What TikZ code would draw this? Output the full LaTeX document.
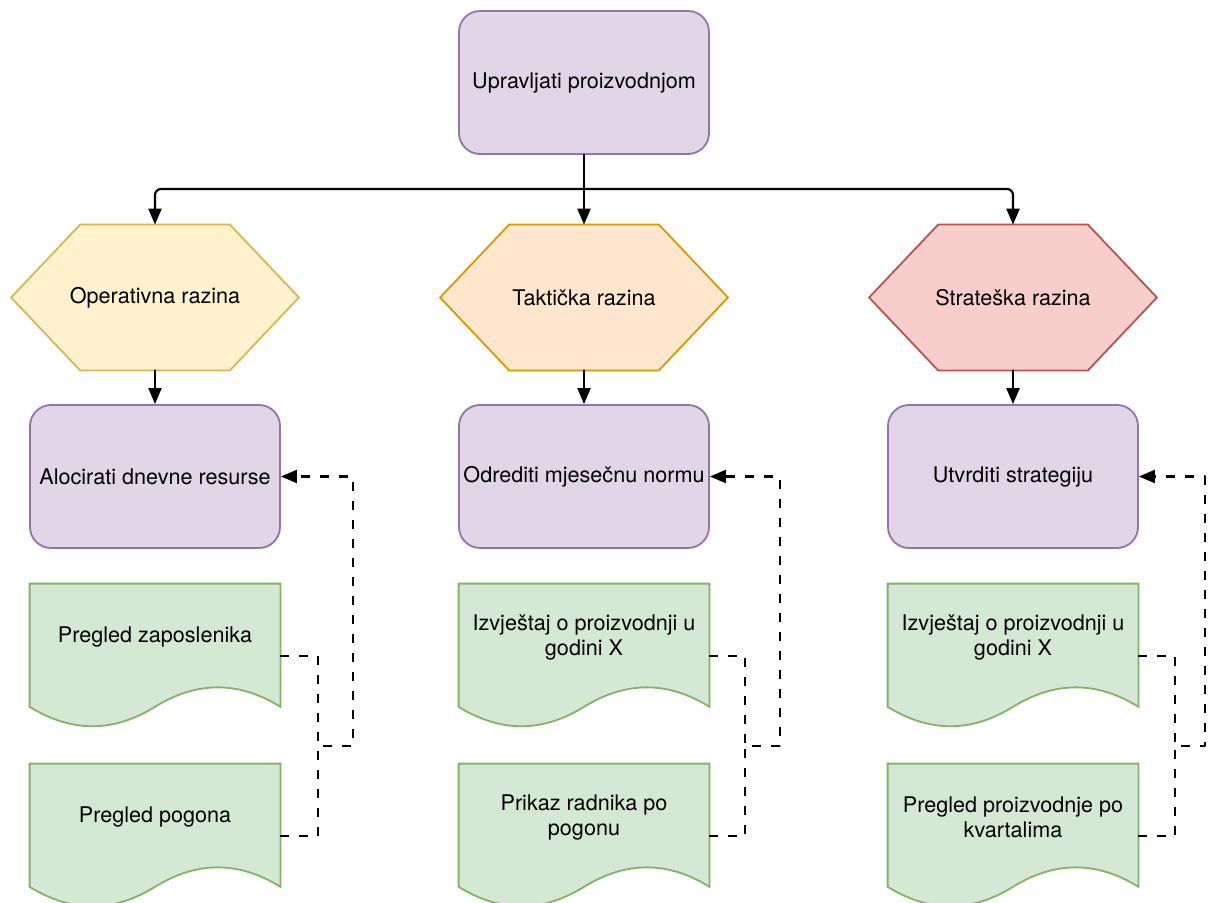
\documentclass[tikz,border=0pt]{standalone}
\usepackage{pgf,tikz}
\usepackage{fontspec}
\setmainfont{TeX Gyre Heros}
\usetikzlibrary{arrows.meta}
\usetikzlibrary{backgrounds}
\usepackage{color}
\definecolor{procfill}{HTML}{E1D5E7}
\definecolor{procline}{HTML}{9673A6}
\definecolor{opfill}{HTML}{FFF2CC}
\definecolor{opline}{HTML}{D6B656}
\definecolor{takfill}{HTML}{FFE6CC}
\definecolor{takline}{HTML}{D79B00}
\definecolor{strfill}{HTML}{F8CECC}
\definecolor{strline}{HTML}{B85450}
\definecolor{docfill}{HTML}{D5E8D4}
\definecolor{docline}{HTML}{82B366}

\begin{document}
\begin{tikzpicture}[line cap=round,line join=round,>={Triangle[length=8pt,width=6.5pt]},x=0.5pt,y=-0.5pt,
  font=\fontsize{10.8pt}{12.5pt}\selectfont,
  procbox/.style={draw=procline,fill=procfill,line width=0.9pt,rounded corners=10.5pt,minimum width=125pt,minimum height=71.5pt,inner sep=0pt,align=center},
  levelhex/.style={minimum width=143.5pt,minimum height=72.5pt,inner sep=0pt},
  docbox/.style={minimum width=125pt,minimum height=72pt,inner sep=0pt,label={[yshift=9.5pt,align=center]center:#1}},
  docshape/.style={draw=docline,fill=docfill,line width=0.9pt},
  link/.style={->,line width=1.1pt,rounded corners=3pt},
  fbline/.style={line width=1.1pt,dash pattern=on 4.5pt off 5pt,line cap=butt},
  fback/.style={fbline,->}]
\useasboundingbox (0,0) rectangle (1208,903);
\node [procbox] (top) at (584,82.5) {Upravljati proizvodnjom};
\node [levelhex] (op) at (155,297.5) {Operativna razina};
\node [levelhex] (tak) at (584,297.5) {Taktička razina};
\node [levelhex] (str) at (1013,297.5) {Strateška razina};
\node [procbox] (aloc) at (155,476.5) {Alocirati dnevne resurse};
\node [procbox] (odr) at (584,476.5) {Odrediti mjesečnu normu};
\node [procbox] (utv) at (1013,476.5) {Utvrditi strategiju};
\node [docbox={Pregled zaposlenika}] (zap) at (155,656) {};
\node [docbox={Pregled pogona}] (pog) at (155,836) {};
\node [docbox={Izvještaj o proizvodnji u\\godini X}] (izvx) at (584,656) {};
\node [docbox={Prikaz radnika po\\pogonu}] (rad) at (584,836) {};
\node [docbox={Izvještaj o proizvodnji u\\godini X}] (izvg) at (1013,656) {};
\node [docbox={Pregled proizvodnje po\\kvartalima}] (kvart) at (1013,836) {};
\begin{scope}[on background layer]
\foreach \h/\f/\l in {op/opfill/opline,tak/takfill/takline,str/strfill/strline}
  \draw [draw=\l,fill=\f,line width=0.9pt] (\h.west) -- ([xshift=34.5pt]\h.north west) -- ([xshift=-34.5pt]\h.north east)
    -- (\h.east) -- ([xshift=-34.5pt]\h.south east) -- ([xshift=34.5pt]\h.south west) -- cycle;
\foreach \d in {zap,pog,izvx,rad,izvg,kvart}
  \draw [docshape] (\d.north west) -- (\d.north east) -- ([yshift=10.8pt]\d.south east)
    .. controls ([shift={(-20.83pt,23.76pt)}]\d.south east) and ([shift={(-41.67pt,23.76pt)}]\d.south east) .. ([yshift=10.8pt]\d.south)
    .. controls ([shift={(-20.83pt,-2.16pt)}]\d.south) and ([shift={(-41.67pt,-2.16pt)}]\d.south) .. ([yshift=10.8pt]\d.south west) -- cycle;
\end{scope}
\coordinate (bus) at (584,189);
\draw [link] (top) -- (tak);
\draw [link] (bus) -| (op);
\draw [link] (bus) -| (str);
\draw [link] (op) -- (aloc);
\draw [link] (tak) -- (odr);
\draw [link] (str) -- (utv);
\coordinate (jop) at (318,746);
\coordinate (jtak) at (745,746);
\coordinate (jstr) at (1175,746);
\draw [fback] (zap) -| (jop) -- ++(35,0) |- (aloc);
\draw [fbline] (pog) -| (jop);
\draw [fback] (izvx) -| (jtak) -- ++(35,0) |- (odr);
\draw [fbline] (rad) -| (jtak);
\draw [fback] (izvg) -| (jstr) -- ++(30,0) |- (utv);
\draw [fbline] (kvart) -| (jstr);
\end{tikzpicture}
\end{document}
